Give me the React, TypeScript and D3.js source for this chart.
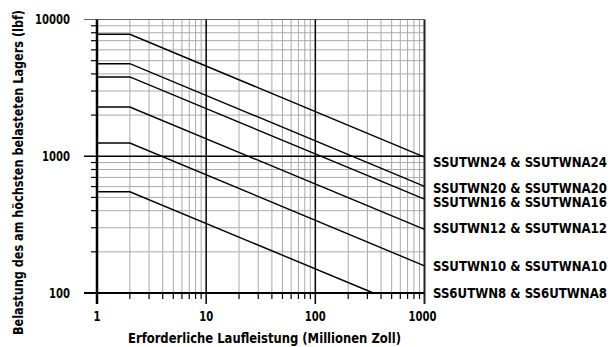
import * as React from 'react';
import * as d3 from 'd3';

// Lebensdauer (Millionen Zoll) / Belastung (lbf)
const SERIES_NAMES = [
  'SSUTWN24 & SSUTWNA24',
  'SSUTWN20 & SSUTWNA20',
  'SSUTWN16 & SSUTWNA16',
  'SSUTWN12 & SSUTWNA12',
  'SSUTWN10 & SSUTWNA10',
  'SS6UTWN8 & SS6UTWNA8',
];
const KNEE_LIFE = [1, 2];
const FLAT_LOAD = [7800, 4750, 3800, 2290, 1250, 550];
const END_LIFE = [1000, 1000, 1000, 1000, 1000, 340];
const END_LOAD = [985, 603, 485, 292, 158, 100];
const LABEL_NUDGE = [5, 2, 2.5, -1, 0, 0];

const X_TICK_LABELS = ['1', '10', '100', '1000'];
const Y_TICK_LABELS = ['100', '1000', '10000'];

const W = 611;
const H = 347;
const FONT = "'Liberation Sans Narrow', 'DejaVu Sans Condensed', 'Liberation Sans', sans-serif";

// squeeze text to the narrow width of the original condensed face
const fit = (len: number) => ({ textLength: len, lengthAdjust: 'spacingAndGlyphs' as const });

export default function App() {
  const x = d3.scaleLog().domain([1, 1000]).range([97, 424.5]);
  const y = d3.scaleLog().domain([100, 10000]).range([293, 19.5]);

  const majorX = X_TICK_LABELS.map(Number);
  const majorY = Y_TICK_LABELS.map(Number);
  const minorX = x.ticks().filter((t) => !majorX.includes(t));
  const minorY = y.ticks().filter((t) => !majorY.includes(t));

  const line = d3
    .line<[number, number]>()
    .x((d) => x(d[0]))
    .y((d) => y(d[1]));

  const series = SERIES_NAMES.map((name, i) => ({
    name,
    points: [
      [KNEE_LIFE[0], FLAT_LOAD[i]],
      [KNEE_LIFE[1], FLAT_LOAD[i]],
      [END_LIFE[i], END_LOAD[i]],
    ] as [number, number][],
    labelY: y(END_LOAD[i]) + LABEL_NUDGE[i],
  }));

  const [x0, x1] = x.range();
  const [y0, y1] = y.range();

  return (
    <svg
      width={W}
      height={H}
      style={{ position: 'absolute', left: 0, top: 0, background: '#fff' }}
      fontFamily={FONT}
    >
      {/* minor grid */}
      {minorX.map((t) => (
        <g key={'mx' + t}>
          <line x1={x(t)} x2={x(t)} y1={y1} y2={y0} stroke="#aaa" strokeWidth={1} />
          <line x1={x(t)} x2={x(t)} y1={y0} y2={y0 + 6} stroke="#000" strokeWidth={1.2} />
        </g>
      ))}
      {minorY.map((t) => (
        <g key={'my' + t}>
          <line x1={x0} x2={x1} y1={y(t)} y2={y(t)} stroke="#aaa" strokeWidth={1} />
          <line x1={x0 - 6} x2={x0} y1={y(t)} y2={y(t)} stroke="#000" strokeWidth={1.2} />
        </g>
      ))}

      {/* major grid */}
      <line x1={x0 - 13} x2={x1} y1={y1} y2={y1} stroke="#666" strokeWidth={1.2} />
      <line x1={x0 - 13} x2={x1} y1={y(1000)} y2={y(1000)} stroke="#000" strokeWidth={1.5} />
      {majorX.slice(1, -1).map((t) => (
        <line key={'Mx' + t} x1={x(t)} x2={x(t)} y1={y1} y2={y0 + 11} stroke="#000" strokeWidth={1.5} />
      ))}
      <line x1={x1} x2={x1} y1={y1} y2={y0 + 11} stroke="#222" strokeWidth={2} />
      <line x1={x0 - 13} x2={x1} y1={y0} y2={y0} stroke="#000" strokeWidth={1.8} />
      <line x1={x0} x2={x0} y1={y1} y2={y0 + 11} stroke="#000" strokeWidth={2.5} />

      {/* series */}
      {series.map((s) => (
        <path key={s.name} d={line(s.points) || ''} fill="none" stroke="#000" strokeWidth={1.4} />
      ))}

      {/* tick labels */}
      {X_TICK_LABELS.map((lab) => (
        <text
          key={'xl' + lab}
          x={x(+lab) - (lab.length > 3 ? 2 : 0)}
          y={321}
          textAnchor="middle"
          fontSize={14}
          fontWeight="bold"
          {...fit(lab.length * 7)}
        >
          {lab}
        </text>
      ))}
      {Y_TICK_LABELS.map((lab) => (
        <text
          key={'yl' + lab}
          x={70}
          y={y(+lab)}
          dy="0.35em"
          textAnchor="end"
          fontSize={14}
          fontWeight="bold"
          {...fit(lab.length * 7)}
        >
          {lab}
        </text>
      ))}

      {/* series labels */}
      {series.map((s) => (
        <text
          key={'sl' + s.name}
          x={433}
          y={s.labelY}
          dy="0.35em"
          fontSize={14}
          fontWeight="bold"
          {...fit(174)}
        >
          {s.name}
        </text>
      ))}

      {/* axis titles */}
      <text x={128} y={338} dy="0.35em" fontSize={14} fontWeight="bold" {...fit(273)}>
        Erforderliche Laufleistung (Millionen Zoll)
      </text>
      <text
        transform="translate(18.5,335) rotate(-90)"
        dy="0.35em"
        fontSize={14}
        fontWeight="bold"
        {...fit(325)}
      >
        Belastung des am höchsten belasteten Lagers (lbf)
      </text>
    </svg>
  );
}
